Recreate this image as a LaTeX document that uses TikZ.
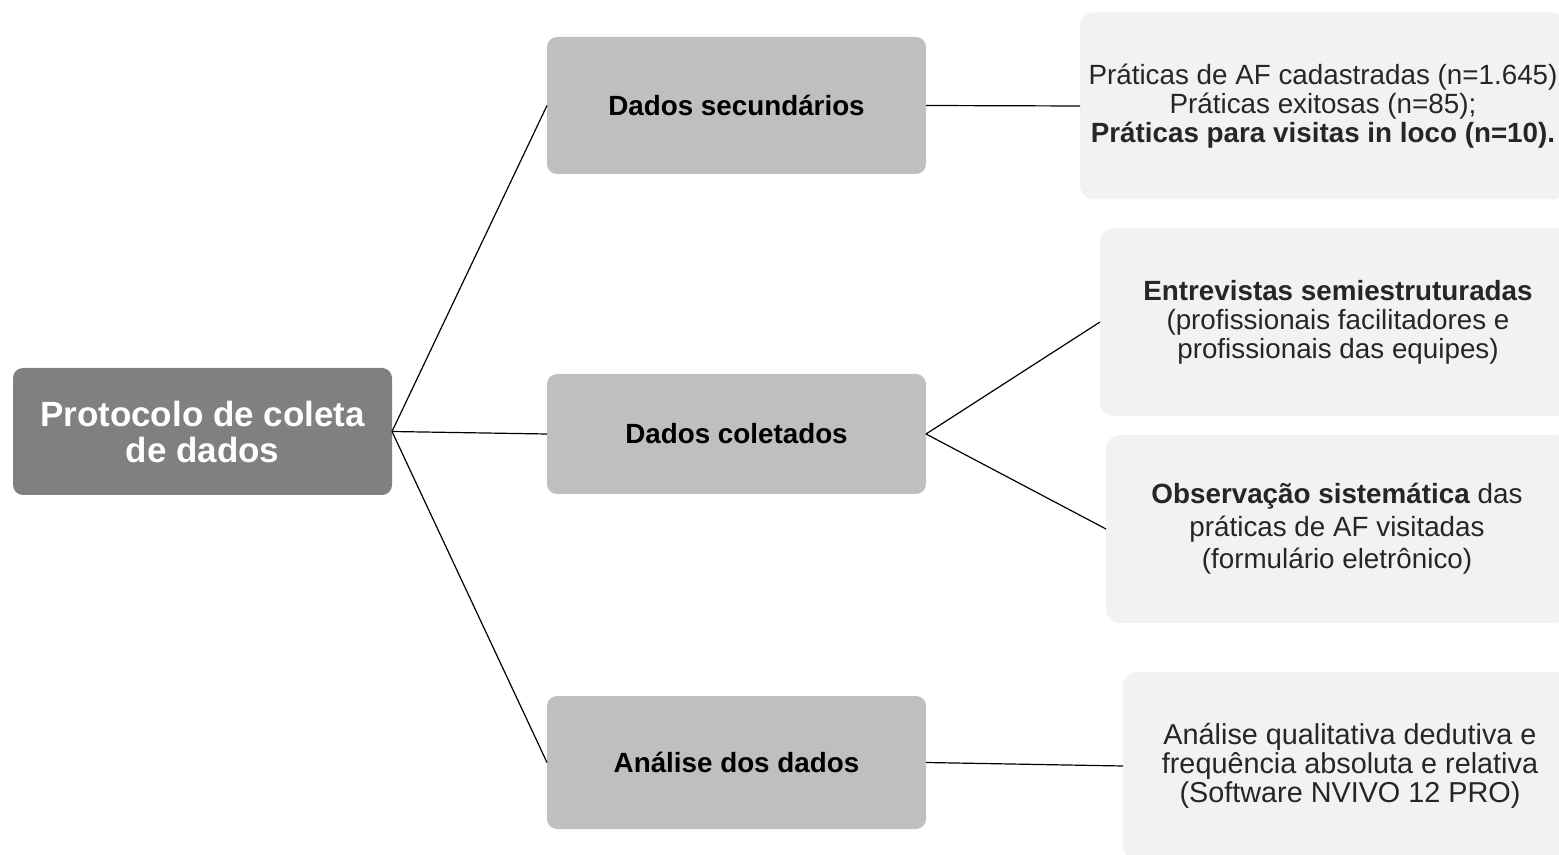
\documentclass[tikz,border=0pt]{standalone}
\usepackage{fontspec}
\setmainfont{Liberation Sans}
\begin{document}
\begin{tikzpicture}[x=0.5pt,y=-0.5pt,
  rootbox/.style={fill=rootgray, rounded corners=5pt, inner sep=0pt, outer sep=0pt,
    minimum width=189.5pt, minimum height=63.5pt, align=center, text=white,
    font=\fontsize{17.5}{18}\selectfont\bfseries},
  midbox/.style={fill=midgray, rounded corners=5pt, inner sep=0pt, outer sep=0pt,
    minimum width=189.5pt, align=center, font=\fontsize{13.9}{15}\selectfont\bfseries},
  infobox/.style={fill=lightgray, rounded corners=7pt, inner sep=0pt, outer sep=0pt,
    minimum height=94pt, align=center, text=black!85,
    font=\fontsize{13.9}{14.5}\selectfont},
  link/.style={draw=black, line width=0.6pt}]
\definecolor{rootgray}{HTML}{808080}
\definecolor{midgray}{HTML}{BFBFBF}
\definecolor{lightgray}{HTML}{F2F2F2}
\clip (0,0) rectangle (1559,855);
\useasboundingbox (0,0) rectangle (1559,855);

% main node
\node[rootbox] (root) at (202.5,431.5) {Protocolo de coleta\\de dados};

% second level
\node[midbox, minimum height=68.5pt] (sec) at (736.5,105.5) {Dados secundários};
\node[midbox, minimum height=60pt] (col) at (736.5,434) {Dados coletados};
\node[midbox, minimum height=66.5pt] (ana) at (736.5,762.5) {Análise dos dados};

% detail boxes
\node[infobox, minimum width=243pt, minimum height=93.5pt] (sec1) at (1323,106)
  {Práticas de AF cadastradas (n=1.645)\\Práticas exitosas (n=85);\\\textbf{Práticas para visitas in loco (n=10).}};
\node[infobox, minimum width=238pt] (col1) at (1338,322)
  {\textbf{Entrevistas semiestruturadas}\\(profissionais facilitadores e\\profissionais das equipes)};
\node[infobox, minimum width=231pt, font=\fontsize{13.9}{16.2}\selectfont] (col2) at (1337,529)
  {\textbf{Observação sistemática} das\\práticas de AF visitadas\\(formulário eletrônico)};
\node[infobox, minimum width=227pt, font=\fontsize{14.4}{14.5}\selectfont] (ana1) at (1350,766)
  {Análise qualitativa dedutiva e\\frequência absoluta e relativa\\(Software NVIVO 12 PRO)};

% connectors
\draw[link] (root.east) -- (sec.west);
\draw[link] (root.east) -- (col.west);
\draw[link] (root.east) -- (ana.west);
\draw[link] (sec.east) -- (sec1.west);
\draw[link] (col.east) -- (col1.west);
\draw[link] (col.east) -- (col2.west);
\draw[link] (ana.east) -- (ana1.west);
\end{tikzpicture}
\end{document}
